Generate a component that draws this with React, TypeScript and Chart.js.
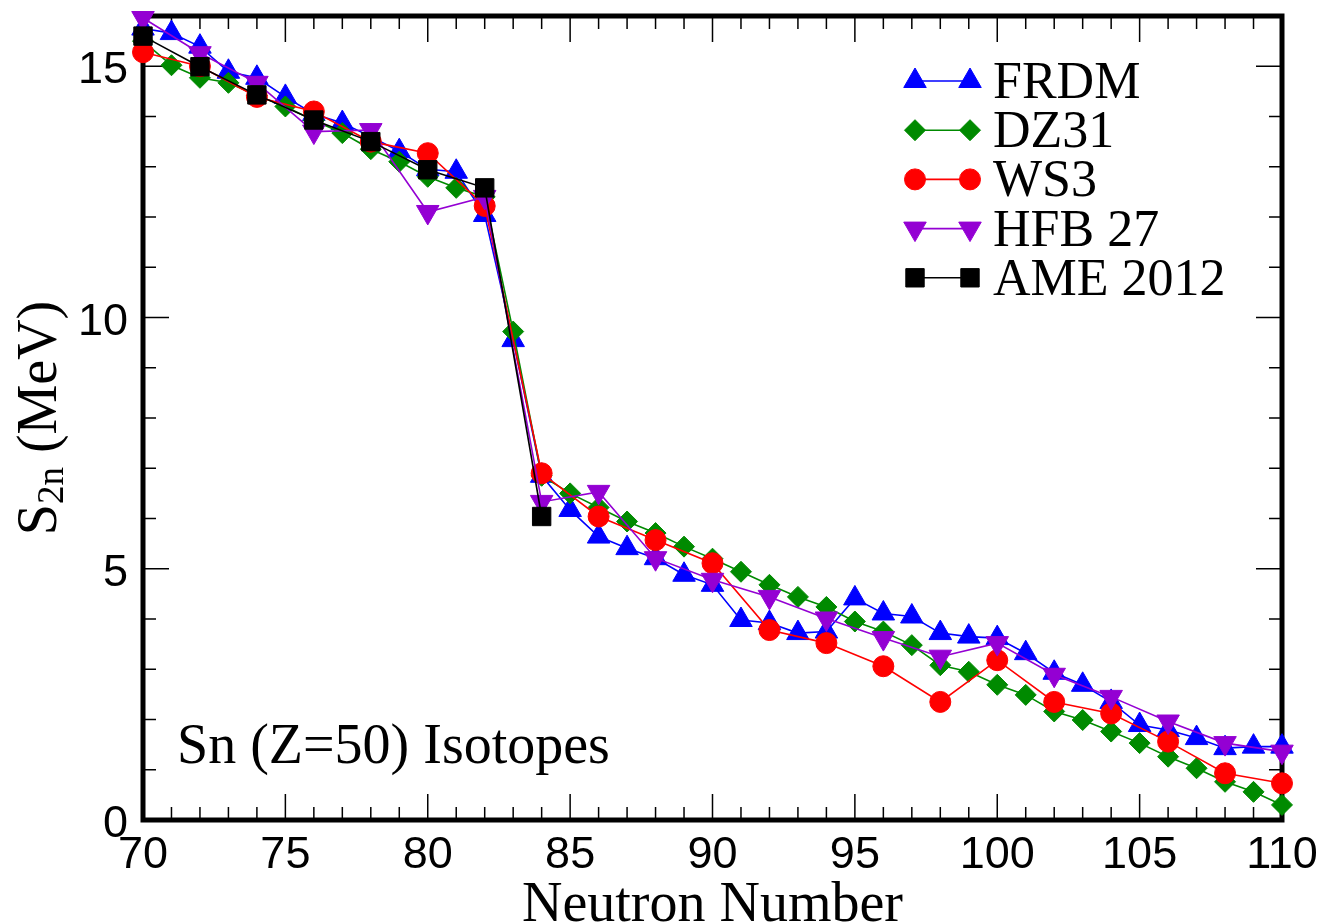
import React, { useEffect, useRef } from "react";
import { Chart, registerables } from "chart.js";
import { drawPoint } from "chart.js/helpers";

Chart.register(...registerables);

// ---------- data ----------
const allN = [70, 71, 72, 73, 74, 75, 76, 77, 78, 79, 80, 81, 82, 83, 84, 85, 86, 87, 88, 89, 90,
  91, 92, 93, 94, 95, 96, 97, 98, 99, 100, 101, 102, 103, 104, 105, 106, 107, 108, 109, 110];
const evenN = [70, 72, 74, 76, 78, 80, 82, 84, 86, 88, 90, 92, 94, 96, 98, 100, 102, 104, 106, 108, 110];
const ameN = [70, 72, 74, 76, 78, 80, 82, 84];

const frdm = [15.75, 15.66, 15.39, 14.89, 14.77, 14.39, 14.05, 13.87, 13.6, 13.31, 12.95, 12.9, 12.04, 9.55, 6.85,
  6.17, 5.64, 5.41, 5.21, 4.88, 4.68, 3.98, 3.92, 3.72, 3.75, 4.41, 4.11, 4.05, 3.72, 3.65, 3.62,
  3.32, 2.93, 2.69, 2.35, 1.89, 1.79, 1.63, 1.43, 1.46, 1.46];
const dz31 = [15.5, 15.02, 14.77, 14.67, 14.42, 14.2, 13.92, 13.67, 13.35, 13.1, 12.8, 12.58, 12.4, 9.72, 6.85,
  6.5, 6.22, 5.94, 5.71, 5.44, 5.2, 4.94, 4.68, 4.44, 4.24, 3.95, 3.75, 3.48, 3.08, 2.95, 2.69,
  2.49, 2.16, 1.99, 1.76, 1.53, 1.26, 1.03, 0.76, 0.56, 0.3];
const ws3 = [15.28, 15.0, 14.39, 14.1, 13.5, 13.27, 12.22, 6.9, 6.04, 5.57, 5.11, 3.78, 3.52, 3.06, 2.35,
  3.18, 2.35, 2.12, 1.56, 0.93, 0.73];
const hfb27 = [15.96, 15.26, 14.67, 13.7, 13.73, 12.1, 12.4, 6.33, 6.53, 5.21, 4.78, 4.44, 4.01, 3.62, 3.25,
  3.52, 2.89, 2.45, 1.96, 1.53, 1.36];
const ame2012 = [15.6, 14.99, 14.43, 13.93, 13.5, 12.94, 12.58, 6.04];

const seriesLabels = ["FRDM", "DZ31", "WS3", "HFB 27", "AME 2012"];
const xTickValues = [70, 75, 80, 85, 90, 95, 100, 105, 110];
const xTickLabels = ["70", "75", "80", "85", "90", "95", "100", "105", "110"];
const yTickValues = [0, 5, 10, 15];
const yTickLabels = ["0", "5", "10", "15"];
const xTitle = "Neutron Number";
const annotation = "Sn (Z=50) Isotopes";

const BLUE = "#0000ff";
const GREEN = "#008a00";
const RED = "#ff0000";
const PURPLE = "#9400d3";
const BLACK = "#000000";

const styles = [
  { color: BLUE, pointStyle: "triangle", radius: 13, rotation: 0 },
  { color: GREEN, pointStyle: "rectRot", radius: 10.5, rotation: 0 },
  { color: RED, pointStyle: "circle", radius: 10.5, rotation: 0 },
  { color: PURPLE, pointStyle: "triangle", radius: 13, rotation: 180 },
  { color: BLACK, pointStyle: "rect", radius: 13, rotation: 0 },
];

function makeDataset(i: number, xs: number[], ys: number[]) {
  const s = styles[i];
  return {
    label: seriesLabels[i],
    data: xs.map((x, k) => ({ x, y: ys[k] })),
    borderColor: s.color,
    backgroundColor: s.color,
    pointBackgroundColor: s.color,
    pointBorderColor: s.color,
    pointStyle: s.pointStyle,
    pointRadius: s.radius,
    pointRotation: s.rotation,
    pointBorderWidth: 1,
    borderWidth: 1.6,
    showLine: true,
    tension: 0,
    clip: false,
    order: 5 - i,
  };
}

const framePlugin = {
  id: "framePlugin",
  beforeDatasetsDraw(chart: any) {
    const { ctx, chartArea: a, scales } = chart;
    const x = scales.x;
    const y = scales.y;
    ctx.save();
    ctx.strokeStyle = "#000";
    ctx.lineWidth = 1.5;
    ctx.beginPath();
    for (let v = x.min; v <= x.max; v++) {
      const px = x.getPixelForValue(v);
      const len = v % 5 === 0 ? 26 : 13;
      ctx.moveTo(px, a.bottom);
      ctx.lineTo(px, a.bottom - len);
      ctx.moveTo(px, a.top);
      ctx.lineTo(px, a.top + len);
    }
    for (let v = y.min; v <= y.max; v++) {
      const py = y.getPixelForValue(v);
      const len = v % 5 === 0 ? 26 : 13;
      ctx.moveTo(a.left, py);
      ctx.lineTo(a.left + len, py);
      ctx.moveTo(a.right, py);
      ctx.lineTo(a.right - len, py);
    }
    ctx.stroke();
    ctx.lineWidth = 5;
    ctx.strokeRect(a.left, a.top, a.right - a.left, a.bottom - a.top);

    // tick labels
    ctx.fillStyle = "#000";
    ctx.font = "45px 'Liberation Sans', Arial, sans-serif";
    ctx.textAlign = "center";
    ctx.textBaseline = "alphabetic";
    xTickValues.forEach((v, i) => {
      ctx.fillText(xTickLabels[i], x.getPixelForValue(v), a.bottom + 48);
    });
    ctx.textAlign = "right";
    yTickValues.forEach((v, i) => {
      ctx.fillText(yTickLabels[i], a.left - 15, y.getPixelForValue(v) + 17);
    });

    // axis titles
    ctx.font = "56px 'Liberation Serif', 'Times New Roman', serif";
    ctx.textAlign = "center";
    ctx.fillText(xTitle, (a.left + a.right) / 2, 921);

    // y title: S_{2n} (MeV)
    ctx.save();
    const cy = (a.top + a.bottom) / 2;
    ctx.translate(56, cy);
    ctx.rotate(-Math.PI / 2);
    ctx.textAlign = "left";
    const big = "56px 'Liberation Serif', 'Times New Roman', serif";
    const small = "37px 'Liberation Serif', 'Times New Roman', serif";
    ctx.font = big;
    const wS = ctx.measureText("S").width;
    const wRest = ctx.measureText(" (MeV)").width;
    ctx.font = small;
    const wSub = ctx.measureText("2n").width;
    const total = wS + wSub + wRest;
    let tx = -total / 2;
    ctx.font = big;
    ctx.fillText("S", tx, 0);
    tx += wS;
    ctx.font = small;
    ctx.fillText("2n", tx, 7);
    tx += wSub;
    ctx.font = big;
    ctx.fillText(" (MeV)", tx, 0);
    ctx.restore();

    // annotation
    ctx.font = "56px 'Liberation Serif', 'Times New Roman', serif";
    ctx.textAlign = "left";
    ctx.fillText(annotation, 177, 763);
    ctx.restore();
  },
  afterDatasetsDraw(chart: any) {
    const { ctx } = chart;
    ctx.save();
    const x1 = 915;
    const x2 = 970;
    const rowY0 = 81;
    const step = 49.2;
    styles.forEach((s, i) => {
      const ry = rowY0 + i * step;
      ctx.strokeStyle = s.color;
      ctx.fillStyle = s.color;
      ctx.lineWidth = 1.6;
      ctx.beginPath();
      ctx.moveTo(x1, ry);
      ctx.lineTo(x2, ry);
      ctx.stroke();
      ctx.lineWidth = 1;
      const opts = { pointStyle: s.pointStyle, radius: s.radius, rotation: s.rotation, borderWidth: 1 };
      drawPoint(ctx, opts as any, x1, ry);
      drawPoint(ctx, opts as any, x2, ry);
      ctx.fillStyle = "#000";
      ctx.font = "52px 'Liberation Serif', 'Times New Roman', serif";
      ctx.textAlign = "left";
      ctx.textBaseline = "alphabetic";
      ctx.fillText(seriesLabels[i], 993, ry + 17);
    });
    ctx.restore();
  },
};

export default function App() {
  const canvasRef = useRef<HTMLCanvasElement | null>(null);

  useEffect(() => {
    document.body.style.margin = "0";
    document.body.style.overflow = "hidden";
    const canvas = canvasRef.current;
    if (!canvas) return;
    const chart = new Chart(canvas, {
      type: "scatter",
      data: {
        datasets: [
          makeDataset(0, allN, frdm),
          makeDataset(1, allN, dz31),
          makeDataset(2, evenN, ws3),
          makeDataset(3, evenN, hfb27),
          makeDataset(4, ameN, ame2012),
        ] as any,
      },
      options: {
        responsive: false,
        animation: false,
        devicePixelRatio: 1,
        layout: { padding: { left: 143, right: 45, top: 16, bottom: 104 } },
        plugins: { legend: { display: false }, tooltip: { enabled: false } },
        scales: {
          x: { type: "linear", min: 70, max: 110, display: false },
          y: { type: "linear", min: 0, max: 16, display: false },
        },
      },
      plugins: [framePlugin],
    });
    return () => chart.destroy();
  }, []);

  return (
    <div style={{ width: 1327, height: 924, background: "#fff" }}>
      <canvas ref={canvasRef} width={1327} height={924} style={{ display: "block" }} />
    </div>
  );
}
